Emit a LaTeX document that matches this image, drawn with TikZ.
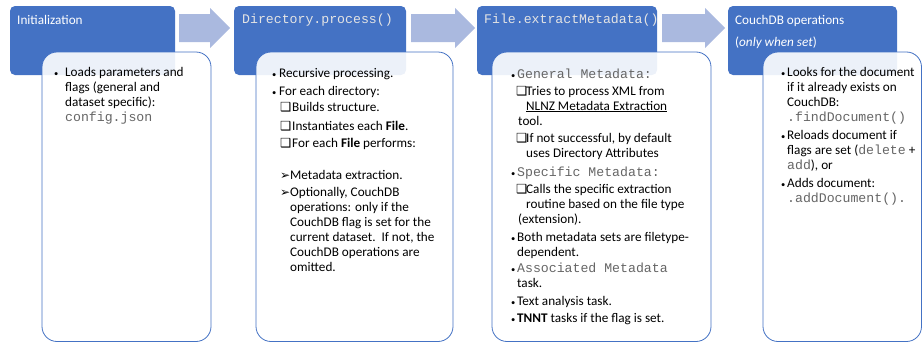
\documentclass[tikz,border=0pt]{standalone}
\usepackage{fontspec}
\setmainfont{Carlito}
\newfontfamily\monofont{Liberation Mono}
\newfontfamily\symfont{DejaVu Sans}

\definecolor{hdrblue}{HTML}{4472C4}
\definecolor{arrowblue}{HTML}{AAB9DF}
\definecolor{codegray}{HTML}{666666}
\definecolor{hdrcode}{HTML}{E4E4E4}

\newcommand\code[1]{{\monofont\color{codegray}#1}}
\newcommand\hcode[1]{{\monofont\color{hdrcode}#1}}
\newcommand\bodysize{\fontsize{13.2}{15}\selectfont}
\newcommand\bul{{\fontsize{8.5}{15}\selectfont •}}
\newcommand\chk{{\symfont\fontsize{12.5}{15}\selectfont ❑}}
\newcommand\darr{{\symfont\fontsize{12}{15}\selectfont ➢}}
\newcommand\stack[1]{\parbox[t]{220pt}{\raggedright\leavevmode #1}}
% block arrow: start x, head x, tip x
\newcommand\blockarrow[3]{\fill[flow] (#1,14) -- (#2,14) -- (#2,8) -- (#3,28) -- (#2,48) -- (#2,42) -- (#1,42) -- cycle;}

\tikzset{
  hdr/.style={fill=hdrblue, rounded corners=5pt},
  card/.style={fill=white, fill opacity=0.9, draw=hdrblue, line width=0.8pt, rounded corners=15pt},
  flow/.style={fill=arrowblue},
  txt/.style={anchor=base west, inner sep=0pt, font=\bodysize, text=black},
  htxt/.style={anchor=base west, inner sep=0pt, font=\bodysize, text=white},
}

\begin{document}
\begin{tikzpicture}[x=1pt, y=-1pt]
\useasboundingbox (0,0) rectangle (923,343);

% flow arrows between stages
\blockarrow{179}{210}{230}
\blockarrow{411}{455}{475}
\blockarrow{662}{705}{725}

% stage headers
\fill[hdr] (10,6) rectangle (175,75);
\fill[hdr] (234,6) rectangle (406,75);
\fill[hdr] (477,6) rectangle (657,75);
\fill[hdr] (728,6) rectangle (897,75);

% detail cards
\path[card] (42,52) rectangle (211,341.5);
\path[card] (256,52) rectangle (453,341.5);
\path[card] (492,52) rectangle (711,341.5);
\path[card] (763,52) rectangle (921.5,341.5);

% --- Initialization
\node[htxt] (h1) at (17,24) {Initialization};
\node[txt] (b1a) at (54,76) {\bul};
\node[txt] (t1a) at (65,76) {\stack{Loads parameters and\\flags (general and\\dataset specific):\\\code{config.json}}};

% --- Directory.process()
\node[htxt] (h2) at (242,23) {\hcode{Directory.process()}};
\node[txt] (b2a) at (272,77) {\bul};
\node[txt] (t2a) at (279,77) {Recursive processing.};
\node[txt] (b2b) at (272,95) {\bul};
\node[txt] (t2b) at (279,95) {For each directory:};
\node[txt] (c2a) at (280,111) {\chk};
\node[txt] (t2c) at (292,111) {Builds structure.};
\node[txt] (c2b) at (280,130) {\chk};
\node[txt] (t2d) at (292,130) {Instantiates each \textbf{File}.};
\node[txt] (c2c) at (280,147) {\chk};
\node[txt] (t2e) at (292,147) {For each \textbf{File} performs:};
\node[txt] (a2a) at (280,179) {\darr};
\node[txt] (t2f) at (290,179) {Metadata extraction.};
\node[txt] (a2b) at (280,196) {\darr};
\node[txt] (t2g) at (290,196) {\stack{Optionally, CouchDB\\operations: only if the\\CouchDB flag is set for the\\current dataset.\ \ If not, the\\CouchDB operations are\\omitted.}};

% --- File.extractMetadata()
\node[htxt] (h3) at (484,23) {\hcode{File.extractMetadata()}};
\node[txt] (b3a) at (511,78) {\bul};
\node[txt] (t3a) at (517,78) {\code{General Metadata:}};
\node[txt] (c3a) at (516,95) {\chk};
\node[txt] (t3b) at (526,95) {\stack{Tries to process XML from\\\underline{NLNZ Metadata Extraction}\\\hspace*{-8pt}tool.}};
\node[txt] (c3b) at (516,142) {\chk};
\node[txt] (t3c) at (526,142) {\stack{If not successful, by default\\uses Directory Attributes}};
\node[txt] (b3b) at (511,176) {\bul};
\node[txt] (t3d) at (517,176) {\code{Specific Metadata:}};
\node[txt] (c3c) at (516,193) {\chk};
\node[txt] (t3e) at (526,193) {\stack{Calls the specific extraction\\routine based on the file type\\\hspace*{-8pt}(extension).}};
\node[txt] (b3c) at (511,241) {\bul};
\node[txt] (t3f) at (517,241) {\stack{Both metadata sets are filetype-\\dependent.}};
\node[txt] (b3d) at (511,272) {\bul};
\node[txt] (t3g) at (517,272) {\stack{\code{Associated Metadata}\\task.}};
\node[txt] (b3e) at (511,305) {\bul};
\node[txt] (t3h) at (517,305) {Text analysis task.};
\node[txt] (b3f) at (511,322) {\bul};
\node[txt] (t3i) at (517,322) {\textbf{TNNT} tasks if the flag is set.};

% --- CouchDB operations
\node[htxt] (h4) at (735,24) {CouchDB operations};
\node[htxt] (h4b) at (735,46) {(\textit{only when set})};
\node[txt] (b4a) at (781,76) {\bul};
\node[txt] (t4a) at (787,76) {\stack{Looks for the document\\if it already exists on\\CouchDB:\\\code{.findDocument()}}};
\node[txt] (b4b) at (781,139) {\bul};
\node[txt] (t4b) at (787,139) {\stack{Reloads document if\\flags are set (\code{delete} +\\\code{add}), or}};
\node[txt] (b4c) at (781,187) {\bul};
\node[txt] (t4c) at (787,187) {\stack{Adds document:\\\code{.addDocument().}}};
\end{tikzpicture}
\end{document}
